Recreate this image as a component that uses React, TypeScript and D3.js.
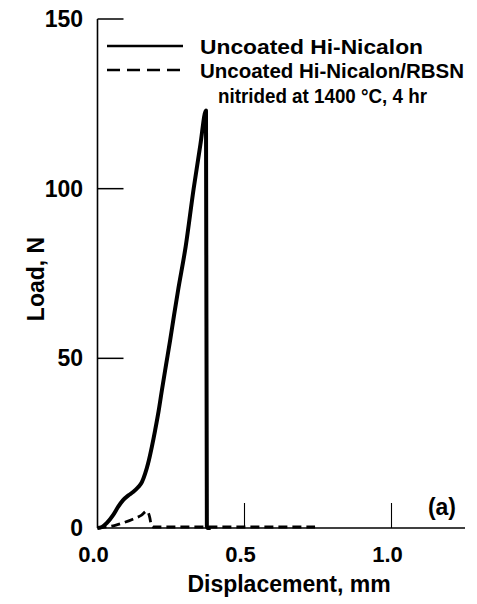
import React from "react";
import * as d3 from "d3";

const solidX = [0, 0.015, 0.032, 0.053, 0.07, 0.087, 0.105, 0.121, 0.138, 0.151, 0.162, 0.172, 0.185, 0.196, 0.208, 0.219, 0.233, 0.247, 0.26, 0.274, 0.3, 0.327, 0.35, 0.369, 0.372, 0.375, 0.385];
const solidY = [0, 0.3, 1.5, 3.8, 6.2, 8.2, 9.6, 10.6, 12, 13.5, 16, 19, 24, 28.8, 34.5, 40.6, 48, 55.3, 62.5, 70, 83, 100, 113, 123, 0.5, 0, 0];

const dashX = [0, 0.03, 0.06, 0.09, 0.12, 0.15, 0.168, 0.178, 0.183, 0.19, 0.3, 0.5, 0.74];
const dashY = [0, 0.3, 0.8, 1.6, 2.6, 3.8, 5, 3, 0.8, 0.3, 0.3, 0.3, 0.3];

const yTicks = [0, 50, 100, 150];
const xTicks = [0.0, 0.5, 1.0];
const xTickLabels = ["0.0", "0.5", "1.0"];

const legendLabels = ["Uncoated Hi-Nicalon", "Uncoated Hi-Nicalon/RBSN"];
const legendNote = "nitrided at 1400 °C, 4 hr";
const xTitle = "Displacement, mm";
const yTitle = "Load, N";
const panelLabel = "(a)";

const FONT = "'Liberation Sans', Arial, Helvetica, sans-serif";

export default function App() {
  const W = 477, H = 604;
  const x = d3.scaleLinear().domain([0, 1.25]).range([97.5, 465]);
  const y = d3.scaleLinear().domain([0, 150]).range([528, 19]);

  const line = d3
    .line<[number, number]>()
    .x((d) => x(d[0]))
    .y((d) => y(d[1]))
    .curve(d3.curveMonotoneX);

  const solidPts: [number, number][] = solidX.map((v, i) => [v, solidY[i]]);
  const dashPts: [number, number][] = dashX.map((v, i) => [v, dashY[i]]);

  return (
    <svg
      width={W}
      height={H}
      style={{ position: "absolute", left: 0, top: 0, background: "#fff" }}
      fontFamily={FONT}
      fontWeight="bold"
    >
      <rect width={W} height={H} fill="#fff" />
      {/* axes */}
      <line x1={x(0)} x2={x(0)} y1={y(0)} y2={y(150)} stroke="#000" strokeWidth={1.6} />
      <line x1={x(0)} x2={x(1.25)} y1={y(0)} y2={y(0)} stroke="#000" strokeWidth={1.6} />
      {yTicks.filter((t) => t > 0).map((t) => (
        <line key={"yt" + t} x1={x(0)} x2={x(0) + 26} y1={y(t)} y2={y(t)} stroke="#000" strokeWidth={1.5} />
      ))}
      {xTicks.filter((t) => t > 0).map((t) => (
        <line key={"xt" + t} x1={x(t)} x2={x(t)} y1={y(0)} y2={y(0) - 25} stroke="#000" strokeWidth={1.1} />
      ))}
      {yTicks.map((t) => (
        <text key={"yl" + t} x={83} y={y(t) + 8} textAnchor="end" fontSize={23}>
          {t}
        </text>
      ))}
      {xTicks.map((t, i) => (
        <text key={"xl" + t} x={x(t) - 4} y={562} textAnchor="middle" fontSize={22}>
          {xTickLabels[i]}
        </text>
      ))}
      <text x={289} y={592} textAnchor="middle" fontSize={23}>
        {xTitle}
      </text>
      <text transform={`translate(44,279) rotate(-90)`} textAnchor="middle" fontSize={23}>
        {yTitle}
      </text>
      {/* data */}
      <path d={line(solidPts) || ""} fill="none" stroke="#000" strokeWidth={4} strokeLinejoin="round" />
      <path d={line(dashPts) || ""} fill="none" stroke="#000" strokeWidth={2.8} strokeDasharray="9,5" />
      {/* legend */}
      <line x1={107} x2={183} y1={46} y2={46} stroke="#000" strokeWidth={2.4} />
      <text x={200} y={54} fontSize={21} textLength={223} lengthAdjust="spacingAndGlyphs">{legendLabels[0]}</text>
      <line x1={107} x2={183} y1={70} y2={70} stroke="#000" strokeWidth={2.4} strokeDasharray="13,7" />
      <text x={200} y={78} fontSize={21} textLength={264} lengthAdjust="spacingAndGlyphs">{legendLabels[1]}</text>
      <text x={218} y={103} fontSize={21} textLength={209} lengthAdjust="spacingAndGlyphs">{legendNote}</text>
      <text x={456} y={515} textAnchor="end" fontSize={23}>{panelLabel}</text>
    </svg>
  );
}
